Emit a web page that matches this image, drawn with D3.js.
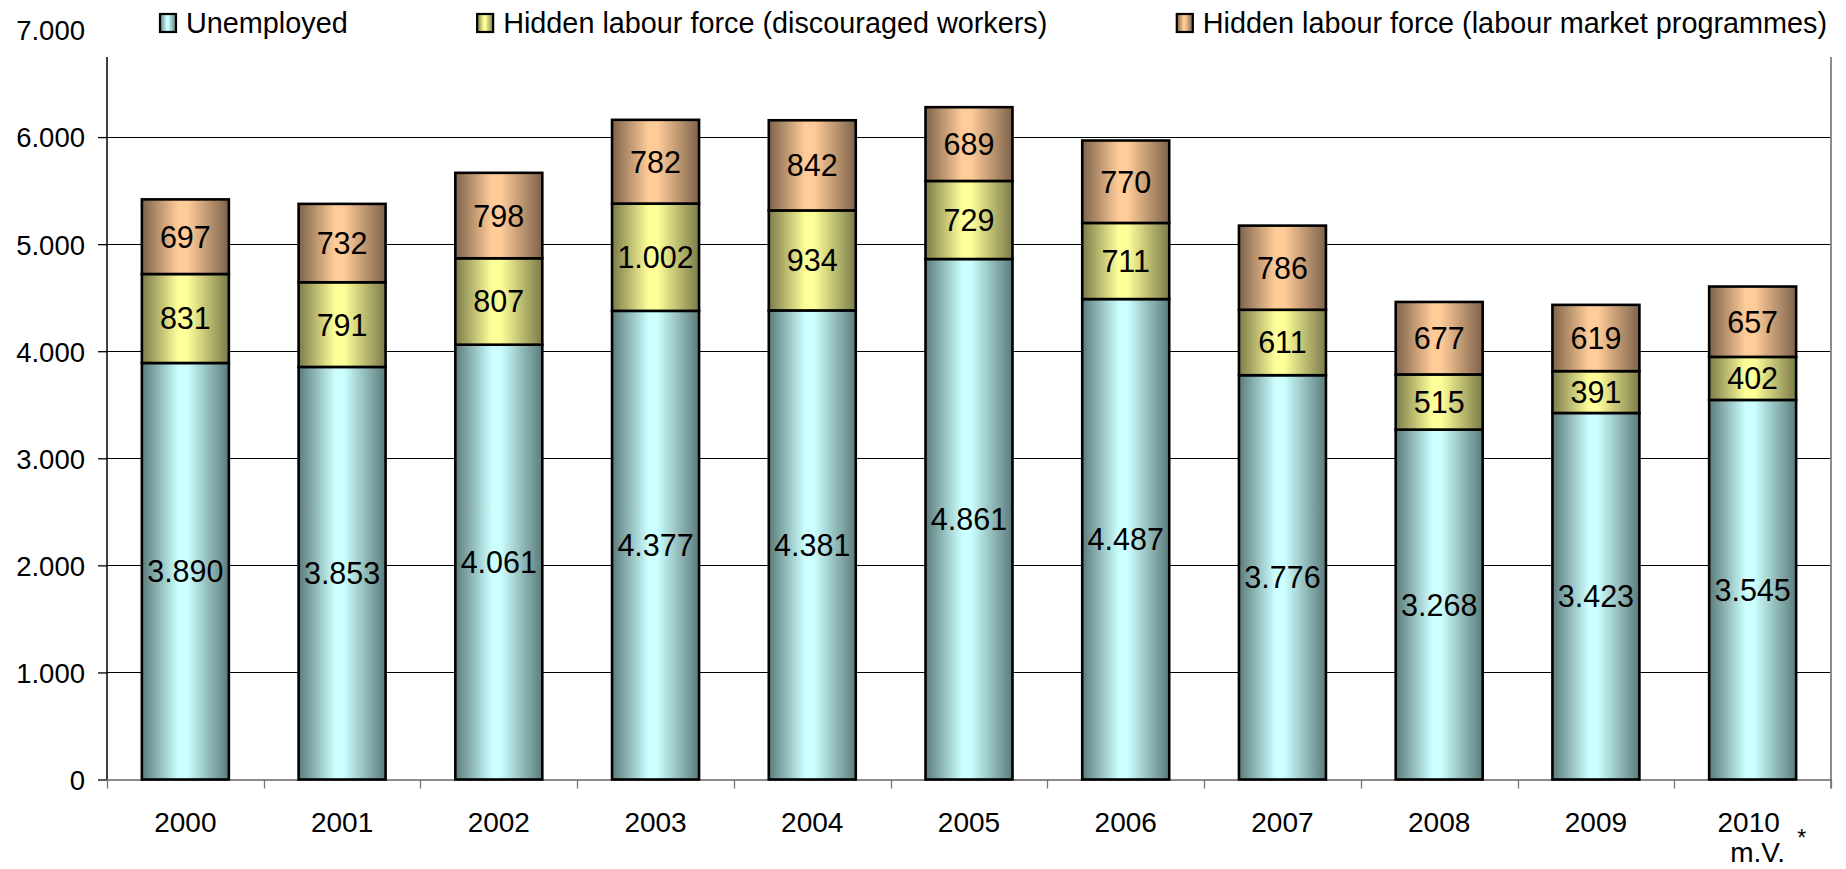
<!DOCTYPE html>
<html>
<head>
<meta charset="utf-8">
<script src="https://cdn.jsdelivr.net/npm/d3@7/dist/d3.min.js"></script>
<style>
  html, body { margin: 0; padding: 0; background: #fff; }
  svg { display: block; font-family: "Liberation Sans", Arial, sans-serif; }
</style>
</head>
<body>
<svg id="chart" width="1846" height="869"></svg>
<script>
// Yearly figures (persons), stacked bottom to top
const years = ["2000", "2001", "2002", "2003", "2004", "2005", "2006", "2007", "2008", "2009", "2010"];
const unemployed = [3890, 3853, 4061, 4377, 4381, 4861, 4487, 3776, 3268, 3423, 3545];
const discouraged = [831, 791, 807, 1002, 934, 729, 711, 611, 515, 391, 402];
const programmes = [697, 732, 798, 782, 842, 689, 770, 786, 677, 619, 657];
const seriesNames = [
  "Unemployed",
  "Hidden labour force (discouraged workers)",
  "Hidden labour force (labour market programmes)"
];
const yTicks = [0, 1000, 2000, 3000, 4000, 5000, 6000, 7000];
const lastYearNote = "m.V.";
const footnoteMark = "*";

const seriesLight = ["#ccffff", "#ffff99", "#ffcc99"];
const seriesDark = ["#5c7b7b", "#7b7b4a", "#7d634a"];

const fmt = v => d3.format(",")(v).replace(/,/g, ".");

const svg = d3.select("#chart");
const left = 107, right = 1831, plotTop = 57, base = 779.5;

const x = d3.scaleBand().domain(years).range([left, right])
  .paddingInner(0.445).paddingOuter(0.2225);
const y = d3.scaleLinear().domain([0, 7000]).range([base, 30]);

// horizontal shading for each series
const defs = svg.append("defs");
seriesLight.forEach((c, i) => {
  const g = defs.append("linearGradient").attr("id", "grad" + i)
    .attr("x1", "0%").attr("x2", "100%").attr("y1", "0%").attr("y2", "0%");
  g.append("stop").attr("offset", "0%").attr("stop-color", seriesDark[i]);
  g.append("stop").attr("offset", "42%").attr("stop-color", c);
  g.append("stop").attr("offset", "52%").attr("stop-color", c);
  g.append("stop").attr("offset", "100%").attr("stop-color", seriesDark[i]);
});

// gridlines
svg.append("g").selectAll("line")
  .data(yTicks.filter(t => t > 0 && t < 7000))
  .join("line")
  .attr("x1", left).attr("x2", right)
  .attr("y1", d => Math.round(y(d)) + 0.5).attr("y2", d => Math.round(y(d)) + 0.5)
  .attr("stroke", "#000").attr("stroke-width", 1.1);

// y axis
const yAxis = d3.axisLeft(y).tickValues(yTicks).tickFormat(fmt).tickSize(9).tickPadding(13);
const gy = svg.append("g").attr("transform", `translate(${left},0)`).call(yAxis);
gy.select(".domain").remove();
gy.selectAll(".tick line").attr("stroke", "#000").attr("stroke-width", 1.3)
  .filter(d => d === 7000).remove();
gy.selectAll(".tick text").attr("font-size", 27.5).attr("fill", "#000")
  .attr("font-family", "'Liberation Sans', Arial, sans-serif")
  .attr("dy", "0.36em");
svg.append("line").attr("x1", left).attr("x2", left).attr("y1", plotTop).attr("y2", base)
  .attr("stroke", "#000").attr("stroke-width", 1.5);

// right border of plot area
svg.append("line").attr("x1", right).attr("x2", right).attr("y1", plotTop).attr("y2", base + 9)
  .attr("stroke", "#8c8c8c").attr("stroke-width", 2);

// category axis baseline and ticks at band edges
const step = x.step();
const edges = d3.range(years.length + 1).map(i => left + i * step);
svg.append("line").attr("x1", left).attr("x2", right).attr("y1", base + 0.5).attr("y2", base + 0.5)
  .attr("stroke", "#666").attr("stroke-width", 1.5);
svg.append("g").selectAll("line").data(edges).join("line")
  .attr("x1", d => Math.round(d) + 0.5).attr("x2", d => Math.round(d) + 0.5)
  .attr("y1", base).attr("y2", base + 9)
  .attr("stroke", "#777").attr("stroke-width", 1.3);

// stacked bars
const rows = years.map((yr, i) => ({ year: yr, vals: [unemployed[i], discouraged[i], programmes[i]] }));
const stack = [];
rows.forEach(r => {
  let acc = 0;
  r.vals.forEach((v, s) => {
    stack.push({ year: r.year, s, v, y0: acc, y1: acc + v });
    acc += v;
  });
});

const bars = svg.append("g");
bars.selectAll("rect").data(stack).join("rect")
  .attr("x", d => x(d.year))
  .attr("width", x.bandwidth())
  .attr("y", d => y(d.y1))
  .attr("height", d => y(d.y0) - y(d.y1))
  .attr("fill", d => `url(#grad${d.s})`)
  .attr("stroke", "#000").attr("stroke-width", 2.6);

// value labels
svg.append("g").selectAll("text").data(stack).join("text")
  .attr("x", d => x(d.year) + x.bandwidth() / 2)
  .attr("y", d => (y(d.y0) + y(d.y1)) / 2)
  .attr("dy", "0.36em")
  .attr("text-anchor", "middle")
  .attr("font-size", 30.5)
  .attr("fill", "#000")
  .text(d => fmt(d.v));

// category labels
const xl = svg.append("g");
xl.selectAll("text").data(years).join("text")
  .attr("x", d => x(d) + x.bandwidth() / 2 - (d === years[years.length - 1] ? 4 : 0))
  .attr("y", 832)
  .attr("text-anchor", "middle")
  .attr("font-size", 28)
  .attr("fill", "#000")
  .text(d => d);
const lastX = x(years[years.length - 1]) + x.bandwidth() / 2;
xl.append("text").attr("x", lastX + 5).attr("y", 862).attr("text-anchor", "middle")
  .attr("font-size", 28).text(lastYearNote);
xl.append("text").attr("x", lastX + 49).attr("y", 846).attr("text-anchor", "middle")
  .attr("font-size", 23).text(footnoteMark);

// legend: first entry at the left, last ending at the right edge, equal gaps between
const legendLeft = 159, legendRight = 1827, keyGap = 27;
const lg = svg.append("g");
const items = seriesNames.map((name, i) => {
  const g = lg.append("g");
  g.append("rect").attr("x", 1).attr("y", 14).attr("width", 16).attr("height", 18)
    .attr("fill", `url(#grad${i})`).attr("stroke", "#000").attr("stroke-width", 2.2);
  const t = g.append("text").attr("x", keyGap).attr("y", 33).attr("font-size", 28.8).attr("fill", "#000")
    .text(name);
  return { g, w: keyGap + t.node().getComputedTextLength() };
});
const totalW = d3.sum(items, d => d.w);
const gap = (legendRight - legendLeft - totalW) / (items.length - 1);
let cursor = legendLeft;
items.forEach(it => {
  it.g.attr("transform", `translate(${cursor},0)`);
  cursor += it.w + gap;
});
</script>
</body>
</html>
